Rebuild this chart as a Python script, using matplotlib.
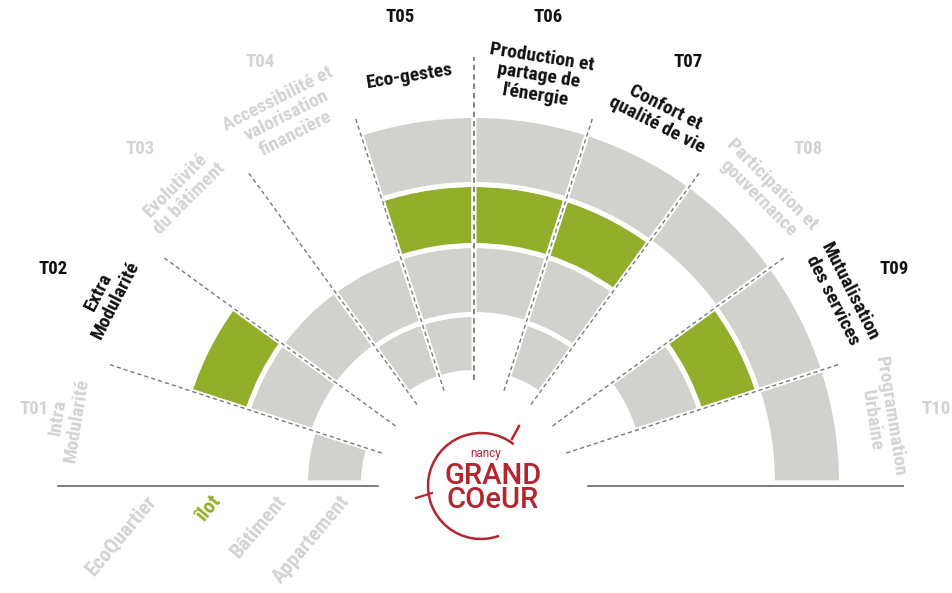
import matplotlib
matplotlib.use("Agg")
import matplotlib.pyplot as plt
from matplotlib.patches import Wedge, Arc
import numpy as np

plt.rcParams['font.family'] = ['Roboto Condensed', 'PT Sans Narrow', 'DejaVu Sans']

# themes, left (T01) to right (T10)
codes = ["T01", "T02", "T03", "T04", "T05", "T06", "T07", "T08", "T09", "T10"]
themes = ["Intra\nModularité", "Extra\nModularité", "Evolutivité\ndu bâtiment",
          "Accessibilité et\nvalorisation\nfinancière", "Eco-gestes",
          "Production et\npartage de\nl'énergie", "Confort et\nqualité de vie",
          "Participation et\ngouvernance", "Mutualisation\ndes services",
          "Programmation\nUrbaine"]

# scales, inner ring to outer ring
scales = ["Appartement", "Bâtiment", "îlot", "EcoQuartier"]
highlight_scale = "îlot"

# 1 = theme covers the scale
appartement = [1, 0, 0, 1, 1, 0, 1, 0, 0, 0]
batiment = [0, 1, 1, 1, 1, 1, 1, 0, 1, 0]
ilot = [0, 1, 0, 0, 1, 1, 1, 0, 1, 0]
ecoquartier = [0, 0, 0, 0, 1, 1, 1, 1, 1, 1]
coverage = [appartement, batiment, ilot, ecoquartier]

GRAY = "#d1d1cd"
GREEN = "#93ae2a"
LIGHT = "#d3d3d3"
DARK = "#111111"
RED = "#b3262e"

ring_edges = [110.5, 168.5, 237.5, 298.5, 367.5]
n = len(codes)
step = 180 / n

fig = plt.figure(figsize=(9.52, 5.93), dpi=100)
ax = fig.add_axes([0, 0, 1, 1])
ax.set_xlim(-474, 478)
ax.set_ylim(-110, 483)
ax.axis("off")

highlighted = [bool(v) for v in coverage[scales.index(highlight_scale)]]

for k, scale in enumerate(scales):
    color = GREEN if scale == highlight_scale else GRAY
    for i in range(n):
        if coverage[k][i]:
            t1 = 180 - step * (i + 1)
            w = Wedge((0, 0), ring_edges[k + 1], t1, t1 + step,
                      width=ring_edges[k + 1] - ring_edges[k],
                      facecolor=color, edgecolor="white", linewidth=3.6, zorder=2)
            ax.add_patch(w)

# dashed separators
for i in range(1, n):
    a = np.radians(180 - step * i)
    r0, r1 = (103, 426) if i == n // 2 else (97, 383)
    ax.plot([r0 * np.cos(a), r1 * np.cos(a)], [r0 * np.sin(a), r1 * np.sin(a)],
            color="#7a7a7a", lw=1.3 if i == n // 2 else 1.0,
            dashes=(3, 2.2), zorder=3)

# baselines
ax.plot([-416, -96], [-3, -3], color="#666666", lw=1.2, zorder=3)
ax.plot([114, 429], [-3, -3], color="#666666", lw=1.2, zorder=3)

# theme labels
for i in range(n):
    mid = 180 - step * (i + 0.5)
    a = np.radians(mid)
    col = DARK if highlighted[i] else LIGHT
    x = np.clip(472 * np.cos(a), -440, 462)
    ax.text(x, 472 * np.sin(a), codes[i], ha="center", va="center",
            fontsize=13.5, fontweight="bold", color=col)
    ax.text(412 * np.cos(a), 412 * np.sin(a), themes[i], ha="center", va="center",
            rotation=mid - 90, rotation_mode="anchor", multialignment="center",
            fontsize=14, fontweight="bold", color=col, linespacing=1.1)

# scale labels under the baseline
for k, scale in enumerate(scales):
    rm = (ring_edges[k] + ring_edges[k + 1]) / 2
    col = GREEN if scale == highlight_scale else LIGHT
    ax.text(-rm + 12, -15, scale, ha="right", va="center", rotation=50,
            rotation_mode="anchor", fontsize=15, fontweight="bold", color=col)

# logo
ax.add_patch(Arc((7, -3), 106, 106, theta1=52, theta2=290, color=RED, lw=1.8, zorder=4))
ax.plot([38, 45], [44, 57], color=RED, lw=1.8, zorder=4)
ax.plot([-58, -42], [-15, -10], color=RED, lw=1.6, zorder=4)
ax.text(12, 29, "nancy", ha="center", va="center", fontsize=8.5, color=RED,
        family=["Roboto", "DejaVu Sans"])
ax.text(19, -5, "GRAND\nCOeUR", ha="center", va="center", fontsize=21, color=RED,
        family=["Roboto", "DejaVu Sans"], fontweight="medium", linespacing=0.85)

fig.savefig("out.png", dpi=100)
